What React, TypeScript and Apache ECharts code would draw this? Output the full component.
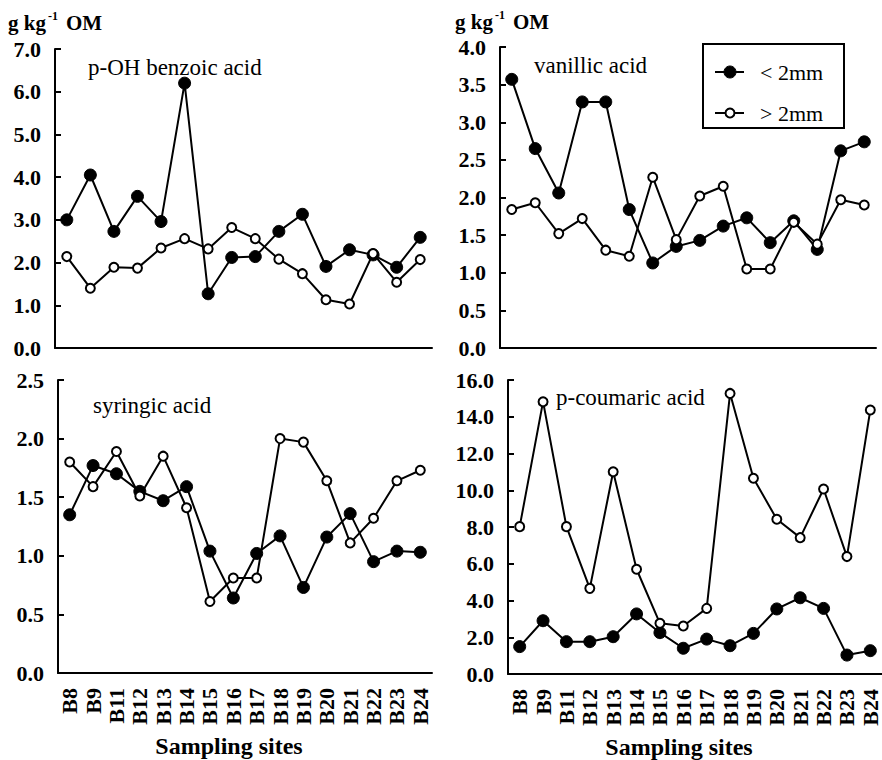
import React, { useEffect, useRef } from "react";
import * as echarts from "echarts";

const sites = ["B8", "B9", "B11", "B12", "B13", "B14", "B15", "B16", "B17", "B18", "B19", "B20", "B21", "B22", "B23", "B24"];

const benzoicFine = [3.0, 4.05, 2.73, 3.55, 2.96, 6.2, 1.27, 2.12, 2.14, 2.73, 3.13, 1.91, 2.3, 2.18, 1.89, 2.59];
const benzoicCoarse = [2.14, 1.4, 1.89, 1.87, 2.34, 2.56, 2.32, 2.82, 2.56, 2.08, 1.74, 1.13, 1.03, 2.21, 1.54, 2.07];

const vanillicFine = [3.57, 2.65, 2.06, 3.27, 3.27, 1.84, 1.13, 1.35, 1.43, 1.62, 1.73, 1.4, 1.69, 1.31, 2.62, 2.74];
const vanillicCoarse = [1.84, 1.93, 1.52, 1.72, 1.3, 1.22, 2.27, 1.44, 2.02, 2.15, 1.05, 1.05, 1.67, 1.38, 1.97, 1.9];

const syringicFine = [1.35, 1.77, 1.7, 1.55, 1.47, 1.59, 1.04, 0.64, 1.02, 1.17, 0.73, 1.16, 1.36, 0.95, 1.04, 1.03];
const syringicCoarse = [1.8, 1.59, 1.89, 1.51, 1.85, 1.41, 0.61, 0.81, 0.81, 2.0, 1.97, 1.64, 1.11, 1.32, 1.64, 1.73];

const coumaricFine = [1.49, 2.9, 1.76, 1.76, 2.03, 3.27, 2.25, 1.4, 1.9, 1.54, 2.21, 3.54, 4.15, 3.57, 1.03, 1.27];
const coumaricCoarse = [8.02, 14.82, 8.02, 4.66, 11.01, 5.7, 2.76, 2.61, 3.57, 15.27, 10.65, 8.42, 7.42, 10.07, 6.39, 14.37];

const yMax = [7, 4, 2.5, 16];
const yStep = [1, 0.5, 0.5, 2];
const panelTitles = ["p-OH benzoic acid", "vanillic acid", "syringic acid", "p-coumaric acid"];
const legendNames = ["< 2mm", "> 2mm"];
const unitParts = ["g kg", "-1", "OM"];
const xAxisTitle = "Sampling sites";

const FONT = "serif";

export default function App() {
  const ref = useRef<HTMLDivElement>(null);

  useEffect(() => {
    if (!ref.current) return;
    const chart = echarts.init(ref.current, null, { renderer: "svg" });

    const grids = [
      { left: 55, top: 49, width: 377, height: 299 },
      { left: 500, top: 47, width: 376, height: 301 },
      { left: 58, top: 380, width: 374, height: 293 },
      { left: 508, top: 380, width: 376, height: 294 },
    ];

    const fineData = [benzoicFine, vanillicFine, syringicFine, coumaricFine];
    const coarseData = [benzoicCoarse, vanillicCoarse, syringicCoarse, coumaricCoarse];

    const xAxes = grids.map((_, i) => ({
      type: "category",
      gridIndex: i,
      data: sites,
      boundaryGap: true,
      axisLine: { lineStyle: { color: "#000", width: 2 } },
      axisTick: { inside: true, length: 7, interval: 0, lineStyle: { color: "#000", width: 2 } },
      axisLabel: {
        show: i >= 2,
        interval: 0,
        rotate: 90,
        margin: 15,
        color: "#000",
        fontFamily: FONT,
        fontWeight: "bold",
        fontSize: 22,
      },
      name: i >= 2 ? xAxisTitle : "",
      nameLocation: "middle",
      nameGap: 61,
      nameTextStyle: {
        color: "#000",
        fontFamily: FONT,
        fontWeight: "bold",
        fontSize: 24,
        padding: [0, 32, 0, 0],
      },
    }));

    const yAxes = grids.map((_, i) => ({
      type: "value",
      gridIndex: i,
      min: 0,
      max: yMax[i],
      interval: yStep[i],
      splitLine: { show: false },
      axisLine: { show: true, lineStyle: { color: "#000", width: 2 } },
      axisTick: { show: true, inside: true, length: 6, lineStyle: { color: "#000", width: 2 } },
      axisLabel: {
        margin: 14,
        color: "#000",
        fontFamily: FONT,
        fontWeight: "bold",
        fontSize: 22,
        padding: [3, 0, 0, 0],
        formatter: (v: number) => v.toFixed(1),
      },
    }));

    const series: any[] = [];
    grids.forEach((_, i) => {
      series.push({
        name: legendNames[0],
        type: "line",
        xAxisIndex: i,
        yAxisIndex: i,
        data: fineData[i],
        symbol: "circle",
        symbolSize: 12,
        lineStyle: { color: "#000", width: 2 },
        itemStyle: { color: "#000", borderColor: "#000", borderWidth: 1 },
        z: 3,
      });
      series.push({
        name: legendNames[1],
        type: "line",
        xAxisIndex: i,
        yAxisIndex: i,
        data: coarseData[i],
        symbol: "circle",
        symbolSize: 9,
        showAllSymbol: true,
        lineStyle: { color: "#000", width: 2 },
        itemStyle: { color: "#fff", borderColor: "#000", borderWidth: 2 },
        z: 4,
      });
    });

    const titlePos = [
      [88, 67],
      [534, 65],
      [93, 405],
      [556, 397],
    ];

    const unitPos = [
      [8, 23],
      [455, 22],
    ];

    const graphics: any[] = [];
    panelTitles.forEach((t, i) => {
      graphics.push({
        type: "text",
        x: titlePos[i][0],
        y: titlePos[i][1],
        style: { text: t, fill: "#000", fontFamily: FONT, fontSize: 23, verticalAlign: "middle" },
      });
    });
    unitPos.forEach((p) => {
      graphics.push({
        type: "text",
        x: p[0],
        y: p[1],
        style: { text: unitParts[0], fill: "#000", fontFamily: FONT, fontWeight: "bold", fontSize: 21, verticalAlign: "middle" },
      });
      graphics.push({
        type: "text",
        x: p[0] + 40,
        y: p[1] - 7,
        style: { text: unitParts[1], fill: "#000", fontFamily: FONT, fontWeight: "bold", fontSize: 12, verticalAlign: "middle" },
      });
      graphics.push({
        type: "text",
        x: p[0] + 58,
        y: p[1],
        style: { text: unitParts[2], fill: "#000", fontFamily: FONT, fontWeight: "bold", fontSize: 21, verticalAlign: "middle" },
      });
    });
    // legend box
    graphics.push({
      type: "rect",
      shape: { x: 703, y: 44, width: 141, height: 84 },
      style: { fill: "#fff", stroke: "#000", lineWidth: 2 },
      z: 10,
    });
    const legendRows = [72, 113];
    legendRows.forEach((y, k) => {
      graphics.push({
        type: "line",
        shape: { x1: 715, y1: y, x2: 744, y2: y },
        style: { stroke: "#000", lineWidth: 2 },
        z: 11,
      });
      graphics.push({
        type: "circle",
        shape: { cx: 730, cy: y, r: k === 0 ? 6 : 4.5 },
        style: { fill: k === 0 ? "#000" : "#fff", stroke: "#000", lineWidth: k === 0 ? 1 : 2 },
        z: 12,
      });
      graphics.push({
        type: "text",
        x: 760,
        y: y,
        style: { text: legendNames[k], fill: "#000", fontFamily: FONT, fontSize: 22, verticalAlign: "middle" },
        z: 12,
      });
    });

    chart.setOption({
      animation: false,
      backgroundColor: "#fff",
      textStyle: { fontFamily: FONT },
      grid: grids.map((g) => ({ ...g, containLabel: false })),
      xAxis: xAxes,
      yAxis: yAxes,
      graphic: graphics,
      series,
    });

    return () => chart.dispose();
  }, []);

  return (
    <div
      ref={ref}
      style={{ position: "fixed", left: 0, top: 0, width: 882, height: 760, background: "#fff" }}
    />
  );
}
